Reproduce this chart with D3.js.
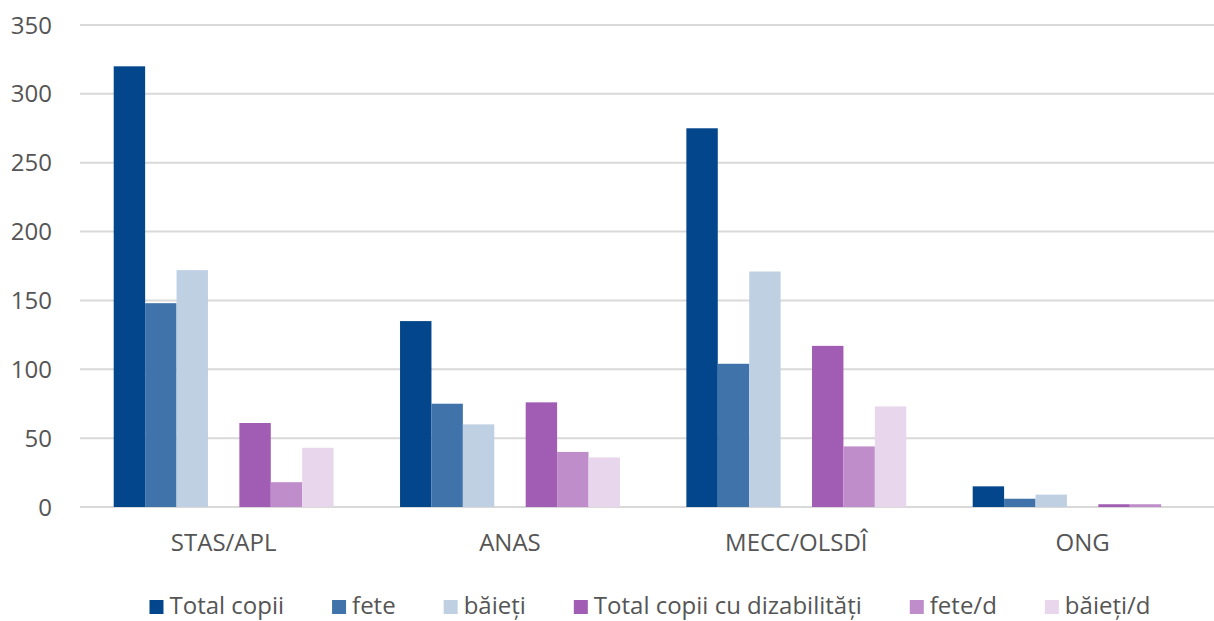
<!DOCTYPE html>
<html>
<head>
<meta charset="utf-8">
<script src="https://cdn.jsdelivr.net/npm/d3@7"></script>
<style>
  html, body { margin: 0; padding: 0; background: #fff; }
  svg { display: block; }
  text { font-family: "Open Sans", sans-serif; fill: #555555; }
</style>
</head>
<body>
<svg id="chart" width="1214" height="621"></svg>
<script>
// Categories (institution types)
const categories = ["STAS/APL", "ANAS", "MECC/OLSDÎ", "ONG"];

// Series
const seriesNames = ["Total copii", "fete", "băieți", "Total copii cu dizabilități", "fete/d", "băieți/d"];
const totalCopii     = [320, 135, 275, 15];
const fete           = [148, 75, 104, 6];
const baieti         = [172, 60, 171, 9];
const totalDizab     = [61, 76, 117, 2];
const feteD          = [18, 40, 44, 2];
const baietiD        = [43, 36, 73, 0];

const seriesValues = [totalCopii, fete, baieti, totalDizab, feteD, baietiD];
const seriesColors = ["#03468c", "#3f73a9", "#bfd0e3", "#a05db3", "#be8dca", "#e7d6ec"];
// slot of each series inside a category group (slot 3 is left empty)
const seriesSlots = [0, 1, 2, 4, 5, 6];

const yTicks = [0, 50, 100, 150, 200, 250, 300, 350];

const svg = d3.select("#chart");

const y = d3.scaleLinear().domain([0, 350]).range([507, 25]);
const x = d3.scaleBand()
  .domain(categories)
  .range([80.5, 1225.8])
  .paddingInner(0.232)
  .paddingOuter(0.116);
const xs = d3.scaleBand().domain(d3.range(7)).range([0, x.bandwidth()]);

// Gridlines
svg.append("g")
  .selectAll("line")
  .data(yTicks)
  .join("line")
  .attr("x1", 80).attr("x2", 1214)
  .attr("y1", d => y(d)).attr("y2", d => y(d))
  .attr("stroke", "#d9d9d9")
  .attr("stroke-width", 2);

// Y tick labels
svg.append("g")
  .selectAll("text")
  .data(yTicks)
  .join("text")
  .attr("x", 52)
  .attr("y", d => y(d))
  .attr("dy", "0.36em")
  .attr("text-anchor", "end")
  .style("font-size", "24px")
  .text(d => d);

// Bars
const rows = [];
categories.forEach((c, ci) => {
  seriesValues.forEach((vals, si) => {
    rows.push({ cat: c, si, value: vals[ci] });
  });
});

svg.append("g")
  .selectAll("rect")
  .data(rows)
  .join("rect")
  .attr("x", d => x(d.cat) + xs(seriesSlots[d.si]))
  .attr("width", xs.bandwidth())
  .attr("y", d => y(d.value))
  .attr("height", d => y(0) - y(d.value))
  .attr("fill", d => seriesColors[d.si]);

// Category labels
svg.append("g")
  .selectAll("text")
  .data(categories)
  .join("text")
  .attr("x", d => x(d) + x.bandwidth() / 2)
  .attr("y", 551)
  .attr("text-anchor", "middle")
  .style("font-size", "24px")
  .text(d => d);

// Legend
const legend = svg.append("g");
const items = legend.selectAll("g")
  .data(seriesNames)
  .join("g");
items.append("rect")
  .attr("width", 14).attr("height", 14)
  .attr("y", 600)
  .attr("fill", (d, i) => seriesColors[i]);
items.append("text")
  .attr("x", 20)
  .attr("y", 614)
  .style("font-size", "24px")
  .text(d => d);

let cursor = 0;
const offsets = [];
items.each(function () {
  const w = 20 + d3.select(this).select("text").node().getComputedTextLength();
  offsets.push(cursor);
  cursor += w + 48;
});
const totalW = cursor - 48;
const startX = 650 - totalW / 2;
items.attr("transform", (d, i) => `translate(${startX + offsets[i]},0)`);
</script>
</body>
</html>
